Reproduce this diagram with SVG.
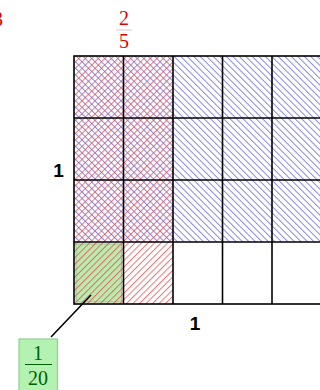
<svg xmlns="http://www.w3.org/2000/svg" width="320" height="390" viewBox="0 0 320 390">
<style>
.grid{stroke:#000;stroke-width:1.6;fill:none}
.frac{font-family:"Liberation Serif",serif;font-size:20px;text-anchor:middle}
.one{font-family:"Liberation Sans",Arial,sans-serif;font-size:19px;font-weight:bold;text-anchor:middle;fill:#000}
</style>
<defs>
<pattern id="red" patternUnits="userSpaceOnUse" width="4.6" height="4.6" patternTransform="rotate(45)">
<line x1="0.5" y1="0" x2="0.5" y2="4.6" stroke="#e64a4a" stroke-width="1" stroke-opacity="0.75"/>
</pattern>
<pattern id="blue" patternUnits="userSpaceOnUse" width="4.6" height="4.6" patternTransform="rotate(-45)">
<line x1="0.5" y1="0" x2="0.5" y2="4.6" stroke="#5f5fdc" stroke-width="1" stroke-opacity="0.75"/>
</pattern>
</defs>
<g id="shading">
<rect id="green-cell" x="76" y="244" width="45.5" height="58" fill="#b9ecae" stroke="#9ccc94" stroke-width="1.2"/>
<rect x="74" y="56" width="250" height="186" fill="url(#blue)"/>
<rect x="74" y="56" width="99" height="248" fill="url(#red)"/>
</g>
<g id="grid" class="grid">
<rect x="74" y="56" width="260" height="248"/>
<line x1="123.5" y1="56" x2="123.5" y2="304"/>
<line x1="173" y1="56" x2="173" y2="304"/>
<line x1="222.5" y1="56" x2="222.5" y2="304"/>
<line x1="272" y1="56" x2="272" y2="304"/>
<line x1="74" y1="118" x2="330" y2="118"/>
<line x1="74" y1="180" x2="330" y2="180"/>
<line x1="74" y1="242" x2="330" y2="242"/>
</g>
<g id="label-3-4">
<text class="frac" x="-2" y="26" fill="#e00000">3</text>
</g>
<g id="label-2-5">
<text class="frac" x="124" y="25" fill="#e00000">2</text>
<line x1="116" y1="30" x2="132" y2="30" stroke="#d8c8c8" stroke-width="1"/>
<text class="frac" x="124" y="47.5" fill="#e00000">5</text>
</g>
<g id="label-left-1"><text class="one" x="58.5" y="177">1</text></g>
<g id="label-bottom-1"><text class="one" x="195" y="330">1</text></g>
<g id="connectors">
<line x1="51" y1="337" x2="91" y2="295" stroke="#000" stroke-width="1.6"/>
</g>
<g id="label-1-20">
<rect x="19" y="339" width="38.5" height="55" fill="#b3f2b0" stroke="#90d090" stroke-width="1.2"/>
<text class="frac" x="38" y="359.5" fill="#006000">1</text>
<line x1="25" y1="364.5" x2="52" y2="364.5" stroke="#006000" stroke-width="1"/>
<text class="frac" x="38" y="385" fill="#006000">20</text>
</g>
</svg>
